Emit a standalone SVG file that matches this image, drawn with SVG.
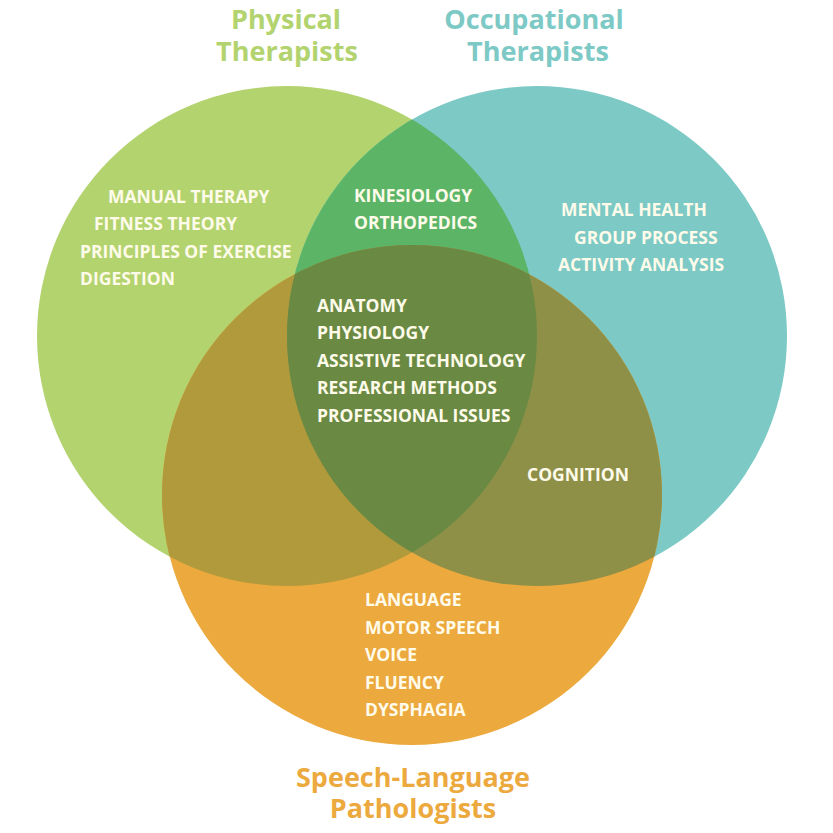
<svg xmlns="http://www.w3.org/2000/svg" width="833" height="833" viewBox="0 0 833 833">
<style>
.item{font-family:"Open Sans","Liberation Sans",sans-serif;font-weight:700;font-size:17.5px;fill:#fffbea}
.title{font-family:"Open Sans","Liberation Sans",sans-serif;font-weight:700;font-size:27px;text-anchor:middle}
</style>
<defs>
<clipPath id="cG"><circle cx="287" cy="336" r="250"/></clipPath>
<clipPath id="cT"><circle cx="537" cy="336" r="250"/></clipPath>
</defs>
<rect width="833" height="833" fill="#ffffff"/>
<g id="pt"><circle cx="287" cy="336" r="250" fill="#b3d36f"/></g>
<g id="ot"><circle cx="537" cy="336" r="250" fill="#7dc9c5"/></g>
<g id="slp"><circle cx="412" cy="495" r="250" fill="#eca93e"/></g>
<g id="pt-ot"><circle cx="537" cy="336" r="250" fill="#5cb567" clip-path="url(#cG)"/></g>
<g id="pt-slp"><circle cx="412" cy="495" r="250" fill="#b09a3c" clip-path="url(#cG)"/></g>
<g id="ot-slp"><circle cx="412" cy="495" r="250" fill="#8e9048" clip-path="url(#cT)"/></g>
<g id="center"><g clip-path="url(#cG)"><circle cx="412" cy="495" r="250" fill="#6a8a43" clip-path="url(#cT)"/></g></g>
<g id="titles">
<text class="title" fill="#b3d36f"><tspan x="286" y="29">Physical</tspan><tspan x="287" y="61">Therapists</tspan></text>
<text class="title" fill="#7dc9c5"><tspan x="534" y="29">Occupational</tspan><tspan x="538" y="61">Therapists</tspan></text>
<text class="title" fill="#eca93e"><tspan x="413" y="787">Speech-Language</tspan><tspan x="413" y="818">Pathologists</tspan></text>
</g>
<g id="pt-items">
<text class="item" x="108" y="203">MANUAL THERAPY</text>
<text class="item" x="94" y="230">FITNESS THEORY</text>
<text class="item" x="80" y="258">PRINCIPLES OF EXERCISE</text>
<text class="item" x="80" y="285">DIGESTION</text>
</g>
<g id="pt-ot-items">
<text class="item" x="354" y="202">KINESIOLOGY</text>
<text class="item" x="354" y="229">ORTHOPEDICS</text>
</g>
<g id="ot-items">
<text class="item" x="561" y="216">MENTAL HEALTH</text>
<text class="item" x="574" y="244">GROUP PROCESS</text>
<text class="item" x="558" y="271">ACTIVITY ANALYSIS</text>
</g>
<g id="center-items">
<text class="item" x="317" y="312">ANATOMY</text>
<text class="item" x="317" y="339">PHYSIOLOGY</text>
<text class="item" x="317" y="367">ASSISTIVE TECHNOLOGY</text>
<text class="item" x="317" y="394">RESEARCH METHODS</text>
<text class="item" x="317" y="422">PROFESSIONAL ISSUES</text>
</g>
<g id="ot-slp-items">
<text class="item" x="527" y="481">COGNITION</text>
</g>
<g id="slp-items">
<text class="item" x="365" y="606">LANGUAGE</text>
<text class="item" x="365" y="634">MOTOR SPEECH</text>
<text class="item" x="365" y="661">VOICE</text>
<text class="item" x="365" y="689">FLUENCY</text>
<text class="item" x="365" y="716">DYSPHAGIA</text>
</g>
</svg>
